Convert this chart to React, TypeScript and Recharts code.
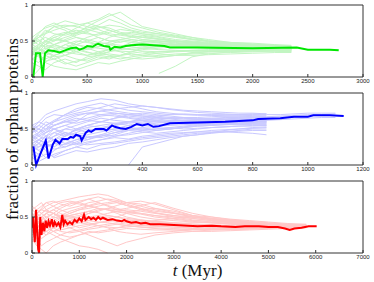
import React from 'react';
import { LineChart, Line, XAxis, YAxis } from 'recharts';

// ---------- Panel 1 (green) ----------
const greenTicks = [0, 500, 1000, 1500, 2000, 2500, 3000];
const greenGrid = [0, 60, 120, 200, 300, 400, 500, 600, 700, 800, 900, 1000, 1150, 1300, 1450, 1600, 1800, 2000, 2200, 2350];
const greenRuns: (number | null)[][] = [
  [0.5, 0.55, 0.6, 0.65, 0.7, 0.72, 0.75, 0.8, 0.88, 0.8, 0.72, 0.68, 0.62, 0.58, 0.55, 0.52, 0.48, 0.46, 0.44, 0.42],
  [0.33, 0.3, 0.25, 0.3, 0.35, 0.4, 0.38, 0.42, 0.45, 0.5, 0.48, 0.46, 0.44, 0.43, 0.42, 0.41, 0.41, 0.4, 0.4, 0.39],
  [0.4, 0.45, 0.5, 0.58, 0.62, 0.6, 0.65, 0.7, 0.68, 0.62, 0.6, 0.58, 0.55, 0.5, 0.48, 0.46, 0.45, 0.43, 0.42, 0.41],
  [0.2, 0.15, 0.1, 0.2, 0.25, 0.2, 0.28, 0.3, 0.32, 0.3, 0.33, 0.35, 0.32, 0.3, 0.34, 0.35, 0.36, 0.37, 0.38, 0.38],
  [0.45, 0.5, 0.4, 0.35, 0.4, 0.45, 0.5, 0.55, 0.5, 0.48, 0.52, 0.5, 0.47, 0.45, 0.44, 0.43, 0.42, 0.42, 0.41, 0.4],
  [0.35, 0.4, 0.45, 0.4, 0.3, 0.25, 0.22, 0.28, 0.25, 0.3, 0.32, 0.3, 0.28, 0.3, 0.32, 0.33, 0.34, 0.35, 0.36, 0.36],
  [0.5, 0.6, 0.7, 0.75, 0.68, 0.62, 0.6, 0.58, 0.62, 0.66, 0.64, 0.6, 0.58, 0.55, 0.52, 0.5, 0.47, 0.45, 0.43, 0.42],
  [0.3, 0.35, 0.32, 0.38, 0.45, 0.5, 0.48, 0.45, 0.4, 0.42, 0.45, 0.48, 0.5, 0.47, 0.45, 0.43, 0.41, 0.4, 0.39, 0.38],
  [0.4, 0.3, 0.2, 0.15, 0.12, 0.1, 0.15, 0.2, 0.18, 0.22, 0.25, 0.28, 0.3, 0.32, 0.33, 0.35, 0.36, 0.37, 0.37, 0.37],
  [0.45, 0.5, 0.55, 0.5, 0.55, 0.6, 0.7, 0.78, 0.85, 0.9, 0.8, 0.7, 0.65, 0.6, 0.55, 0.5, 0.47, 0.45, 0.44, 0.43],
  [0.38, 0.42, 0.48, 0.52, 0.5, 0.45, 0.42, 0.4, 0.38, 0.36, 0.35, 0.38, 0.4, 0.42, 0.41, 0.4, 0.39, 0.38, 0.37, 0.36],
  [null, null, null, null, null, null, null, null, null, null, null, null, 0.05, 0.15, 0.28, 0.32, 0.35, 0.36, 0.37, 0.38],
  [0.33, 0.4, 0.5, 0.55, 0.6, 0.65, 0.62, 0.55, 0.5, 0.52, 0.55, 0.57, 0.53, 0.5, 0.48, 0.47, 0.46, 0.44, 0.43, 0.42],
  [0.42, 0.38, 0.35, 0.28, 0.3, 0.35, 0.4, 0.35, 0.3, 0.28, 0.26, 0.25, 0.27, 0.3, 0.3, 0.31, 0.32, 0.33, 0.34, 0.34],
  [0.5, 0.55, 0.62, 0.7, 0.72, 0.7, 0.66, 0.62, 0.58, 0.55, 0.52, 0.5, 0.48, 0.46, 0.45, 0.44, 0.44, 0.43, 0.42, 0.41],
  [0.25, 0.3, 0.35, 0.45, 0.5, 0.55, 0.52, 0.48, 0.46, 0.44, 0.42, 0.4, 0.38, 0.37, 0.36, 0.36, 0.36, 0.36, 0.36, 0.35],
  [0.35, 0.4, 0.3, 0.25, 0.3, 0.38, 0.42, 0.48, 0.55, 0.6, 0.62, 0.6, 0.56, 0.52, 0.5, 0.48, 0.46, 0.44, 0.42, 0.4],
  [0.0, 0.1, 0.2, 0.3, 0.35, 0.32, 0.3, 0.35, 0.38, 0.4, 0.38, 0.36, 0.35, 0.36, 0.37, 0.38, 0.38, 0.39, 0.39, 0.39],
  [0.5, 0.45, 0.42, 0.45, 0.52, 0.58, 0.63, 0.68, 0.72, 0.7, 0.65, 0.62, 0.6, 0.57, 0.53, 0.5, 0.48, 0.47, 0.45, 0.44],
  [0.33, 0.36, 0.4, 0.42, 0.4, 0.38, 0.34, 0.32, 0.35, 0.38, 0.4, 0.42, 0.44, 0.45, 0.44, 0.43, 0.42, 0.41, 0.4, 0.4],
  [0.45, 0.4, 0.35, 0.3, 0.2, 0.15, 0.2, 0.25, 0.28, 0.3, 0.35, 0.4, 0.42, 0.43, 0.42, 0.42, 0.41, 0.4, 0.39, 0.38],
  [0.55, 0.62, 0.68, 0.72, 0.78, 0.74, 0.7, 0.66, 0.6, 0.58, 0.56, 0.55, 0.52, 0.5, 0.49, 0.47, 0.45, 0.44, 0.43, 0.43],
  [0.3, 0.45, 0.6, 0.7, 0.65, 0.55, 0.5, 0.45, 0.48, 0.52, 0.5, 0.47, 0.45, 0.44, 0.43, 0.42, 0.41, 0.4, 0.39, 0.38],
  [0.48, 0.52, 0.45, 0.5, 0.6, 0.68, 0.75, 0.7, 0.65, 0.6, 0.58, 0.55, 0.53, 0.5, 0.48, 0.46, 0.44, 0.43, 0.42, 0.41],
  [0.36, 0.3, 0.38, 0.45, 0.4, 0.35, 0.3, 0.33, 0.38, 0.35, 0.3, 0.32, 0.35, 0.36, 0.37, 0.37, 0.38, 0.38, 0.38, 0.37],
  [0.5, 0.58, 0.5, 0.45, 0.4, 0.48, 0.55, 0.6, 0.65, 0.6, 0.56, 0.52, 0.5, 0.49, 0.47, 0.45, 0.43, 0.42, 0.41, 0.4],
  [0.4, 0.35, 0.45, 0.55, 0.5, 0.45, 0.4, 0.42, 0.45, 0.4, 0.38, 0.4, 0.43, 0.45, 0.46, 0.44, 0.42, 0.41, 0.4, 0.39],
  [0.25, 0.2, 0.3, 0.35, 0.45, 0.4, 0.35, 0.3, 0.35, 0.42, 0.48, 0.52, 0.5, 0.48, 0.46, 0.44, 0.43, 0.42, 0.41, 0.4],
  [0.45, 0.55, 0.65, 0.6, 0.58, 0.62, 0.68, 0.72, 0.8, 0.75, 0.68, 0.64, 0.6, 0.56, 0.52, 0.49, 0.46, 0.44, 0.43, 0.42],
  [0.33, 0.28, 0.22, 0.25, 0.18, 0.22, 0.25, 0.3, 0.28, 0.25, 0.28, 0.3, 0.33, 0.35, 0.36, 0.36, 0.37, 0.37, 0.36, 0.35],
];
const greenMeanT = [12, 36, 73, 97, 118, 148, 200, 250, 300, 350, 400, 430, 470, 500, 550, 580, 600, 650, 700, 710, 750, 800, 850, 900, 1000, 1100, 1200, 1250, 1500, 2000, 2400, 2500, 2700, 2780];
const greenMeanV = [0, 0.33, 0.33, 0, 0.33, 0.37, 0.36, 0.34, 0.37, 0.4, 0.41, 0.38, 0.4, 0.43, 0.42, 0.45, 0.46, 0.43, 0.42, 0.38, 0.42, 0.41, 0.43, 0.44, 0.45, 0.44, 0.43, 0.41, 0.41, 0.4, 0.41, 0.38, 0.38, 0.37];

// ---------- Panel 2 (blue) ----------
const blueTicks = [0, 200, 400, 600, 800, 1000, 1200];
const blueGrid = [0, 25, 50, 80, 120, 160, 200, 250, 300, 350, 400, 450, 500, 550, 600, 650, 700, 750, 800, 850, 900, 950, 1000, 1050, 1100];
const blueRuns: (number | null)[][] = [
  [0.5, 0.6, 0.7, 0.75, 0.8, 0.85, 0.88, 0.92, 0.9, 0.85, 0.82, 0.8, 0.78, 0.76, 0.75, 0.74, 0.73, 0.72, 0.72, 0.71],
  [0.3, 0.2, 0.1, 0.15, 0.2, 0.25, 0.3, 0.35, 0.4, 0.42, 0.45, 0.48, 0.5, 0.52, 0.54, 0.55, 0.56, 0.57, 0.58, 0.58],
  [0.4, 0.45, 0.5, 0.55, 0.6, 0.62, 0.65, 0.7, 0.72, 0.7, 0.68, 0.66, 0.65, 0.64, 0.64, 0.65, 0.66, 0.66, 0.67, 0.67, 0.68, 0.69, 0.7, 0.7, 0.71],
  [0.2, 0.15, 0.25, 0.3, 0.28, 0.35, 0.4, 0.38, 0.42, 0.48, 0.5, 0.52, 0.5, 0.53, 0.55, 0.56, 0.58, 0.6, 0.61, 0.62],
  [0.5, 0.4, 0.35, 0.4, 0.5, 0.55, 0.6, 0.65, 0.62, 0.6, 0.62, 0.64, 0.65, 0.66, 0.66, 0.67, 0.68, 0.68, 0.69, 0.69],
  [0.25, 0.3, 0.2, 0.1, 0.15, 0.2, 0.18, 0.22, 0.25, 0.3, 0.32, 0.35, 0.38, 0.4, 0.42, 0.44, 0.46, 0.48, 0.5, 0.5],
  [0.35, 0.45, 0.55, 0.62, 0.7, 0.75, 0.8, 0.78, 0.75, 0.72, 0.7, 0.68, 0.66, 0.65, 0.64, 0.63, 0.63, 0.62, 0.62, 0.62, 0.63, 0.64, 0.65, 0.66, 0.66],
  [0.45, 0.5, 0.4, 0.45, 0.5, 0.48, 0.52, 0.55, 0.58, 0.6, 0.58, 0.56, 0.57, 0.58, 0.59, 0.6, 0.6, 0.61, 0.61, 0.62],
  [0.3, 0.35, 0.4, 0.35, 0.3, 0.28, 0.32, 0.35, 0.38, 0.36, 0.4, 0.42, 0.44, 0.45, 0.46, 0.46, 0.46, 0.45, 0.44, 0.42],
  [0.5, 0.55, 0.65, 0.7, 0.68, 0.72, 0.75, 0.8, 0.85, 0.82, 0.78, 0.74, 0.72, 0.7, 0.7, 0.69, 0.68, 0.68, 0.67],
  [0.2, 0.25, 0.3, 0.35, 0.4, 0.45, 0.5, 0.48, 0.5, 0.55, 0.58, 0.6, 0.62, 0.62, 0.63, 0.64, 0.64, 0.65, 0.66, 0.66],
  [null, null, null, null, null, null, null, null, null, 0.0, 0.25, 0.3, 0.35, 0.4, 0.42, 0.45, 0.48, 0.5, 0.52, 0.53],
  [0.4, 0.3, 0.25, 0.3, 0.4, 0.5, 0.55, 0.6, 0.65, 0.7, 0.72, 0.7, 0.68, 0.66, 0.65, 0.64, 0.63, 0.62, 0.62, 0.61],
  [0.35, 0.4, 0.45, 0.5, 0.45, 0.4, 0.42, 0.46, 0.5, 0.52, 0.5, 0.48, 0.5, 0.52, 0.54, 0.55, 0.56, 0.56, 0.57, 0.57],
  [0.5, 0.45, 0.55, 0.6, 0.65, 0.7, 0.72, 0.75, 0.78, 0.8, 0.82, 0.8, 0.77, 0.75, 0.73, 0.72, 0.71, 0.7, 0.7, 0.7, 0.7, 0.71, 0.72, 0.72, 0.72],
  [0.1, 0.05, 0.1, 0.2, 0.3, 0.35, 0.38, 0.4, 0.45, 0.48, 0.46, 0.44, 0.46, 0.48, 0.5, 0.52, 0.53, 0.54, 0.55, 0.55],
  [0.3, 0.35, 0.3, 0.4, 0.45, 0.42, 0.45, 0.5, 0.55, 0.58, 0.6, 0.62, 0.6, 0.58, 0.58, 0.59, 0.6, 0.6, 0.6, 0.6],
  [0.45, 0.5, 0.6, 0.55, 0.6, 0.65, 0.62, 0.6, 0.58, 0.55, 0.56, 0.58, 0.6, 0.62, 0.63, 0.64, 0.65, 0.65, 0.66, 0.66, 0.67, 0.67, 0.68],
  [0.25, 0.2, 0.3, 0.25, 0.35, 0.3, 0.28, 0.3, 0.32, 0.35, 0.38, 0.4, 0.42, 0.44, 0.46, 0.48, 0.49, 0.5, 0.51, 0.52],
  [0.38, 0.42, 0.48, 0.55, 0.6, 0.58, 0.62, 0.68, 0.7, 0.66, 0.64, 0.62, 0.6, 0.6, 0.6, 0.61, 0.62, 0.63, 0.64, 0.64],
  [0.55, 0.6, 0.55, 0.5, 0.55, 0.6, 0.7, 0.75, 0.72, 0.7, 0.68, 0.66, 0.64, 0.62, 0.6, 0.59, 0.58, 0.57, 0.56, 0.56],
  [0.15, 0.1, 0.15, 0.12, 0.2, 0.25, 0.22, 0.28, 0.3, 0.33, 0.36, 0.38, 0.4, 0.42, 0.44, 0.45, 0.46, 0.47, 0.48, 0.48],
  [0.45, 0.55, 0.5, 0.6, 0.7, 0.78, 0.82, 0.86, 0.8, 0.76, 0.74, 0.72, 0.7, 0.7, 0.69, 0.69, 0.68, 0.68, 0.68, 0.67],
  [0.3, 0.25, 0.35, 0.45, 0.4, 0.5, 0.55, 0.52, 0.56, 0.6, 0.62, 0.6, 0.58, 0.6, 0.61, 0.62, 0.62, 0.63, 0.63, 0.63],
  [0.2, 0.3, 0.4, 0.35, 0.45, 0.4, 0.35, 0.4, 0.45, 0.5, 0.52, 0.54, 0.55, 0.56, 0.57, 0.58, 0.58, 0.59, 0.59, 0.6],
  [0.55, 0.5, 0.45, 0.5, 0.42, 0.48, 0.55, 0.6, 0.65, 0.68, 0.66, 0.64, 0.62, 0.62, 0.62, 0.63, 0.63, 0.64, 0.64, 0.65],
  [0.4, 0.35, 0.3, 0.22, 0.25, 0.32, 0.38, 0.42, 0.4, 0.44, 0.48, 0.5, 0.52, 0.54, 0.56, 0.56, 0.57, 0.58, 0.58, 0.59],
  [0.25, 0.35, 0.45, 0.55, 0.62, 0.68, 0.72, 0.7, 0.68, 0.65, 0.62, 0.6, 0.58, 0.57, 0.57, 0.58, 0.59, 0.6, 0.6, 0.61],
  [0.35, 0.3, 0.4, 0.5, 0.55, 0.5, 0.45, 0.5, 0.55, 0.6, 0.64, 0.68, 0.7, 0.71, 0.7, 0.7, 0.7, 0.7, 0.71, 0.71],
  [0.1, 0.15, 0.25, 0.3, 0.25, 0.3, 0.35, 0.42, 0.48, 0.5, 0.48, 0.5, 0.52, 0.5, 0.51, 0.52, 0.53, 0.54, 0.54, 0.55],
];
const blueMeanT = [5, 15, 30, 50, 60, 75, 85, 100, 110, 130, 140, 150, 160, 175, 180, 195, 205, 215, 230, 260, 270, 290, 300, 320, 340, 360, 380, 400, 420, 440, 460, 500, 600, 700, 800, 820, 900, 950, 1000, 1020, 1080, 1130];
const blueMeanV = [0.26, 0, 0.15, 0.34, 0.09, 0.28, 0.35, 0.3, 0.36, 0.36, 0.39, 0.38, 0.42, 0.4, 0.34, 0.45, 0.48, 0.46, 0.5, 0.5, 0.48, 0.55, 0.53, 0.51, 0.5, 0.53, 0.57, 0.55, 0.57, 0.53, 0.54, 0.58, 0.59, 0.6, 0.62, 0.64, 0.65, 0.67, 0.67, 0.69, 0.69, 0.68];

// ---------- Panel 3 (red) ----------
const redTicks = [0, 1000, 2000, 3000, 4000, 5000, 6000, 7000];
const redGrid = [0, 100, 200, 300, 450, 600, 800, 1000, 1200, 1400, 1600, 1800, 2000, 2300, 2600, 3000, 3400, 3800, 4200, 4600, 5000, 5400, 5800];
const redRuns: (number | null)[][] = [
  [0.5, 0.55, 0.6, 0.65, 0.7, 0.72, 0.75, 0.78, 0.8, 0.82, 0.8, 0.75, 0.7, 0.65, 0.6, 0.55, 0.5, 0.47, 0.45, 0.43, 0.41, 0.4, 0.39],
  [0.3, 0.2, 0.1, 0.15, 0.2, 0.25, 0.3, 0.32, 0.35, 0.38, 0.4, 0.42, 0.4, 0.38, 0.37, 0.36, 0.35, 0.35, 0.35, 0.36, 0.36, 0.37, 0.37],
  [0.4, 0.5, 0.45, 0.55, 0.6, 0.55, 0.5, 0.52, 0.58, 0.62, 0.6, 0.57, 0.55, 0.5, 0.47, 0.45, 0.43, 0.42, 0.4, 0.39, 0.38, 0.38],
  [0.2, 0.1, 0.05, 0.0, 0.1, 0.15, 0.2, 0.25, 0.3, 0.28, 0.3, 0.32, 0.34, 0.33, 0.32, 0.32, 0.33, 0.34, 0.35, 0.35, 0.36, 0.36, 0.37],
  [0.6, 0.55, 0.5, 0.45, 0.5, 0.58, 0.62, 0.65, 0.7, 0.72, 0.75, 0.73, 0.7, 0.68, 0.62, 0.56, 0.5, 0.46, 0.44, 0.42, 0.4, 0.39, 0.38],
  [0.35, 0.4, 0.3, 0.25, 0.35, 0.4, 0.38, 0.42, 0.45, 0.48, 0.5, 0.46, 0.44, 0.42, 0.4, 0.38, 0.37, 0.36, 0.35, 0.35, 0.35],
  [0.45, 0.5, 0.55, 0.5, 0.45, 0.4, 0.35, 0.3, 0.25, 0.2, 0.15, 0.1, 0.15, 0.2, 0.25, 0.28, 0.3, 0.32, 0.33, 0.34, 0.35, 0.36, 0.36],
  [0.5, 0.6, 0.65, 0.7, 0.65, 0.6, 0.55, 0.6, 0.62, 0.65, 0.68, 0.7, 0.66, 0.62, 0.58, 0.55, 0.52, 0.5, 0.47, 0.45, 0.43, 0.41, 0.4],
  [0.3, 0.35, 0.4, 0.35, 0.3, 0.32, 0.35, 0.38, 0.4, 0.42, 0.44, 0.45, 0.46, 0.45, 0.44, 0.42, 0.4, 0.39, 0.38, 0.38, 0.37, 0.37, 0.37],
  [0.55, 0.45, 0.4, 0.48, 0.55, 0.62, 0.68, 0.72, 0.75, 0.7, 0.65, 0.6, 0.62, 0.66, 0.7, 0.62, 0.55, 0.5, 0.46, 0.43, 0.41, 0.39, 0.38],
  [0.25, 0.3, 0.35, 0.3, 0.25, 0.2, 0.15, 0.1, 0.08, 0.05, 0.0],
  [0.4, 0.45, 0.5, 0.55, 0.5, 0.48, 0.45, 0.47, 0.5, 0.52, 0.55, 0.58, 0.6, 0.58, 0.55, 0.52, 0.5, 0.48, 0.46, 0.44, 0.42, 0.4, 0.39],
  [0.35, 0.3, 0.25, 0.3, 0.35, 0.3, 0.28, 0.3, 0.33, 0.35, 0.38, 0.4, 0.38, 0.36, 0.34, 0.32, 0.3, 0.3, 0.31, 0.32, 0.33, 0.34, 0.35],
  [0.6, 0.65, 0.7, 0.6, 0.55, 0.5, 0.48, 0.5, 0.55, 0.6, 0.62, 0.6, 0.58, 0.55, 0.52, 0.5, 0.48, 0.45, 0.43, 0.41, 0.4, 0.39],
  [0.45, 0.4, 0.35, 0.4, 0.45, 0.5, 0.52, 0.55, 0.5, 0.48, 0.46, 0.44, 0.42, 0.4, 0.38, 0.36, 0.34, 0.33, 0.33, 0.34, 0.35, 0.36, 0.36],
  [0.3, 0.4, 0.5, 0.55, 0.6, 0.65, 0.7, 0.68, 0.65, 0.62, 0.6, 0.58, 0.56, 0.54, 0.5, 0.47, 0.44, 0.42, 0.4, 0.39, 0.38, 0.38, 0.38],
  [0.5, 0.45, 0.4, 0.35, 0.3, 0.25, 0.22, 0.25, 0.28, 0.3, 0.32, 0.35, 0.38, 0.42, 0.45, 0.48, 0.5, 0.48, 0.45, 0.42, 0.4, 0.38, 0.37],
  [0.4, 0.5, 0.45, 0.5, 0.55, 0.5, 0.45, 0.42, 0.4, 0.38, 0.36, 0.35, 0.36, 0.38, 0.4, 0.41, 0.42, 0.42, 0.41, 0.4, 0.39, 0.38, 0.37],
  [0.15, 0.25, 0.35, 0.4, 0.38, 0.42, 0.45, 0.5, 0.55, 0.58, 0.62, 0.66, 0.7, 0.72, 0.68, 0.6, 0.52, 0.46, 0.42, 0.4, 0.38],
  [0.5, 0.55, 0.6, 0.58, 0.55, 0.52, 0.5, 0.48, 0.45, 0.43, 0.42, 0.4, 0.38, 0.36, 0.35, 0.34, 0.33, 0.32, 0.32, 0.33, 0.34, 0.35, 0.36],
  [0.45, 0.55, 0.62, 0.7, 0.72, 0.68, 0.65, 0.7, 0.75, 0.78, 0.74, 0.7, 0.66, 0.6, 0.56, 0.52, 0.48, 0.45, 0.43, 0.41, 0.4, 0.39, 0.38],
  [0.2, 0.3, 0.25, 0.35, 0.42, 0.48, 0.52, 0.55, 0.58, 0.56, 0.52, 0.5, 0.48, 0.46, 0.44, 0.42, 0.4, 0.39, 0.38, 0.37, 0.37, 0.37, 0.37],
  [0.55, 0.5, 0.42, 0.38, 0.4, 0.45, 0.4, 0.35, 0.38, 0.42, 0.45, 0.5, 0.55, 0.6, 0.62, 0.58, 0.52, 0.48, 0.44, 0.42, 0.4, 0.39, 0.38],
  [0.35, 0.45, 0.55, 0.6, 0.55, 0.5, 0.55, 0.6, 0.65, 0.68, 0.7, 0.72, 0.68, 0.62, 0.56, 0.5, 0.46, 0.43, 0.41, 0.39, 0.38, 0.37, 0.37],
  [0.4, 0.3, 0.2, 0.25, 0.3, 0.35, 0.4, 0.45, 0.42, 0.38, 0.35, 0.3, 0.28, 0.26, 0.28, 0.3, 0.32, 0.33, 0.34, 0.35, 0.36, 0.36, 0.36],
  [0.65, 0.6, 0.55, 0.6, 0.65, 0.7, 0.72, 0.7, 0.66, 0.62, 0.6, 0.55, 0.5, 0.46, 0.43, 0.4, 0.38, 0.37, 0.36, 0.36, 0.36, 0.37],
  [0.3, 0.38, 0.45, 0.42, 0.48, 0.52, 0.58, 0.62, 0.66, 0.7, 0.66, 0.62, 0.58, 0.55, 0.52, 0.48, 0.45, 0.44, 0.42, 0.41, 0.4, 0.39, 0.39],
  [0.5, 0.4, 0.45, 0.4, 0.35, 0.38, 0.42, 0.45, 0.48, 0.5, 0.52, 0.5, 0.46, 0.44, 0.42, 0.4, 0.38, 0.36, 0.35, 0.35, 0.36, 0.36, 0.37],
];
const redMeanT = [0, 20, 40, 60, 85, 110, 130, 150, 175, 200, 230, 260, 290, 320, 350, 380, 420, 450, 480, 520, 560, 600, 640, 670, 700, 750, 800, 850, 900, 950, 1000, 1050, 1100, 1130, 1200, 1250, 1300, 1350, 1400, 1450, 1500, 1600, 1700, 1800, 1900, 1950, 2000, 2100, 2200, 2300, 2400, 2500, 2700, 3000, 3300, 3500, 3800, 4000, 4300, 4500, 4800, 5000, 5200, 5350, 5450, 5550, 5700, 5850, 5950, 6020];
const redMeanV = [0.35, 0.5, 0.3, 0.15, 0.6, 0.3, 0.05, 0, 0.5, 0.25, 0.42, 0.3, 0.45, 0.35, 0.44, 0.38, 0.47, 0.36, 0.43, 0.38, 0.42, 0.36, 0.53, 0.4, 0.45, 0.4, 0.43, 0.4, 0.46, 0.43, 0.48, 0.44, 0.53, 0.46, 0.5, 0.47, 0.49, 0.46, 0.5, 0.47, 0.49, 0.46, 0.47, 0.45, 0.44, 0.46, 0.44, 0.42, 0.43, 0.41, 0.42, 0.4, 0.4, 0.39, 0.38, 0.37, 0.38, 0.37, 0.36, 0.37, 0.37, 0.36, 0.36, 0.34, 0.32, 0.34, 0.35, 0.37, 0.37, 0.37];

const yTicks = [0, 0.5, 1];

type PanelProps = {
  top: number;
  grid: number[];
  runs: (number | null)[][];
  meanT: number[];
  meanV: number[];
  ticks: number[];
  pale: string;
  strong: string;
};

const tickFont = { fontSize: 6, fill: '#222', fontFamily: 'Liberation Sans, Arial, sans-serif' };
const axisColor = '#333';

function Panel({ top, grid, runs, meanT, meanV, ticks, pale, strong }: PanelProps) {
  const xMax = ticks[ticks.length - 1];
  const bgSeries = runs.map((r) =>
    grid
      .map((t, i) => ({ t, v: i < r.length ? r[i] : null }))
      .filter((d) => d.v !== null && d.v !== undefined)
  );
  const meanData = meanT.map((t, i) => ({ t, v: meanV[i] }));
  return (
    <div style={{ position: 'absolute', left: 0, top }}>
      <LineChart width={374} height={88} margin={{ top: 4, right: 10, left: 0, bottom: 0 }}>
        <XAxis
          xAxisId="b"
          dataKey="t"
          type="number"
          domain={[0, xMax]}
          ticks={ticks}
          allowDataOverflow
          height={11}
          tickSize={-3}
          tickMargin={5}
          tick={tickFont}
          stroke={axisColor}
          interval={0}
        />
        <XAxis
          xAxisId="t"
          orientation="top"
          dataKey="t"
          type="number"
          domain={[0, xMax]}
          ticks={ticks}
          allowDataOverflow
          height={1}
          tickSize={-3}
          tick={false}
          stroke={axisColor}
          interval={0}
        />
        <YAxis
          yAxisId="l"
          type="number"
          domain={[0, 1]}
          ticks={yTicks}
          width={32}
          tickSize={-3}
          tickMargin={7}
          tick={tickFont}
          stroke={axisColor}
          interval={0}
        />
        <YAxis
          yAxisId="r"
          orientation="right"
          type="number"
          domain={[0, 1]}
          ticks={yTicks}
          width={1}
          tickSize={-3}
          tick={false}
          stroke={axisColor}
          interval={0}
        />
        {bgSeries.map((d, i) => (
          <Line
            key={'bg' + i}
            data={d}
            dataKey="v"
            xAxisId="b"
            yAxisId="l"
            stroke={pale}
            strokeWidth={1}
            dot={false}
            activeDot={false}
            isAnimationActive={false}
            type="linear"
          />
        ))}
        <Line
          data={meanData}
          dataKey="v"
          xAxisId="b"
          yAxisId="l"
          stroke={strong}
          strokeWidth={2}
          dot={false}
          activeDot={false}
          isAnimationActive={false}
          type="linear"
        />
      </LineChart>
    </div>
  );
}

export default function App() {
  return (
    <div style={{ position: 'fixed', left: 0, top: 0, width: 374, height: 282, background: '#fff', overflow: 'hidden' }}>
      <Panel top={0} grid={greenGrid} runs={greenRuns} meanT={greenMeanT} meanV={greenMeanV} ticks={greenTicks} pale="#c2f5c2" strong="#00e600" />
      <Panel top={88} grid={blueGrid} runs={blueRuns} meanT={blueMeanT} meanV={blueMeanV} ticks={blueTicks} pale="#c8c8ff" strong="#0000ff" />
      <Panel top={176} grid={redGrid} runs={redRuns} meanT={redMeanT} meanV={redMeanV} ticks={redTicks} pale="#ffc8c8" strong="#ff0000" />
      <div
        style={{
          position: 'absolute',
          left: 11.5,
          top: 128.5,
          transform: 'translate(-50%, -50%) rotate(-90deg)',
          whiteSpace: 'nowrap',
          fontFamily: 'Liberation Serif, Times New Roman, serif',
          fontSize: 17,
          lineHeight: '17px',
          color: '#111',
        }}
      >
        fraction of orphan proteins
      </div>
      <div
        style={{
          position: 'absolute',
          left: 32,
          width: 331,
          top: 264.5,
          textAlign: 'center',
          whiteSpace: 'nowrap',
          fontFamily: 'Liberation Serif, Times New Roman, serif',
          fontSize: 17,
          lineHeight: '11px',
          color: '#111',
        }}
      >
        <i>t</i> (Myr)
      </div>
    </div>
  );
}
